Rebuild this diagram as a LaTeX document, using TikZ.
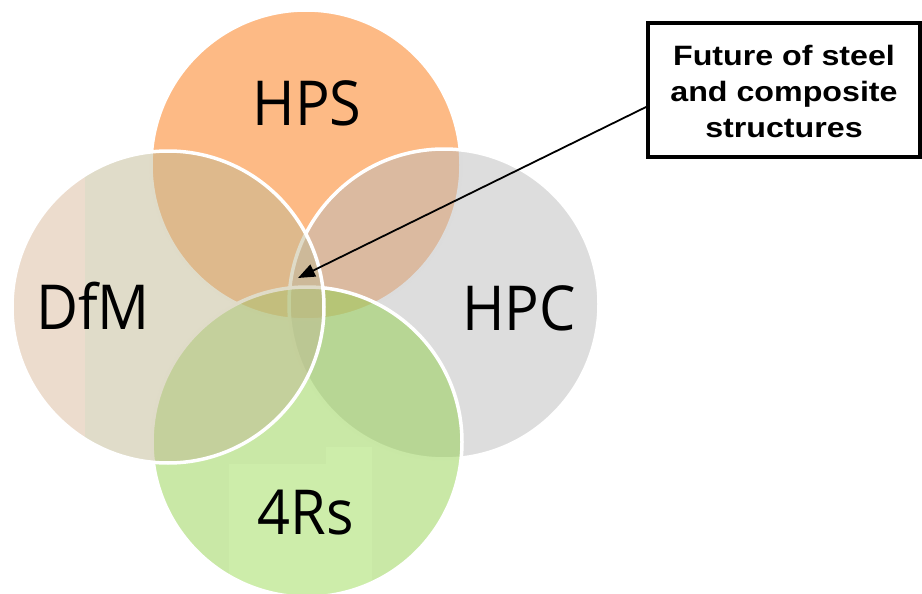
\documentclass[tikz,border=0pt]{standalone}
\usepackage{fontspec}
\usepackage{graphicx}
\usetikzlibrary{arrows.meta}
\newfontfamily\labfont{Open Sans}
\newfontfamily\boxfont{Liberation Sans}
\definecolor{hpsC}{RGB}{253,186,133}
\definecolor{hpcC}{RGB}{187,187,187}
\definecolor{rsC}{RGB}{147,209,77}
\definecolor{dfmC}{RGB}{193,185,147}
\definecolor{dfmStrip}{RGB}{236,220,205}
\definecolor{rsPatch}{RGB}{205,237,170}
\newcommand{\narrow}[1]{\scalebox{0.93}[1]{#1}}
\newcommand{\widen}[1]{\scalebox{1.15}[1]{#1}}
\begin{document}
\begin{tikzpicture}[x=1pt,y=-1pt,
  rim/.style={draw=white, line width=3.5pt},
  lab/.style={anchor=base, font=\labfont\fontsize{62}{70}\selectfont, inner sep=0pt},
  callout/.style={draw=black, line width=3.5pt, fill=white, minimum width=272pt, minimum height=134pt, inner sep=0pt},
  callouttext/.style={align=center, inner sep=0pt, font=\boxfont\bfseries\fontsize{28}{36}\selectfont},
  pointer/.style={draw=black, line width=1.8pt, -{Triangle[length=17pt,width=13pt]}}]
\useasboundingbox (0,0) rectangle (922,594);
\coordinate (cHPS) at (306,165);
\coordinate (cHPC) at (444,304);
\coordinate (cRS) at (307,442);
\coordinate (cDFM) at (168,307);
% HPS
\fill[hpsC] (cHPS) circle[radius=155pt];
\draw[rim] (cHPS) circle[radius=155pt];
% HPC
\fill[hpcC, fill opacity=0.5] (cHPC) circle[radius=155pt];
\draw[rim] (cHPC) circle[radius=155pt];
% 4Rs
\fill[rsC, fill opacity=0.5] (cRS) circle[radius=155pt];
\begin{scope}
  \clip (cRS) circle[radius=155pt];
  \fill[rsPatch] (229,464) rectangle (372,600);
  \fill[rsPatch] (326,447) rectangle (372,464);
\end{scope}
\draw[rim] (cRS) circle[radius=155pt];
% DfM
\fill[dfmC, fill opacity=0.5] (cDFM) circle[radius=156pt];
\begin{scope}
  \clip (cDFM) circle[radius=156pt];
  \fill[dfmStrip] (0,100) rectangle (85,480);
\end{scope}
\draw[rim] (cDFM) circle[radius=156pt];
% labels
\node[lab] (lHPS) at (307,125) {\narrow{HPS}};
\node[lab] (lDFM) at (93,329) {\narrow{DfM}};
\node[lab] (lHPC) at (519,330) {\narrow{HPC}};
\node[lab] (lRS) at (305.5,534) {\narrow{4Rs}};
% callout
\node[callout] (box) at (784,90) {};
\node[callouttext] (boxtext) at ([yshift=-1.5pt]box.center) {\widen{Future of steel}\\\widen{and composite}\\\widen{structures}};
\coordinate (tip) at (298,278);
\draw[pointer] (box.187) -- (tip);
\end{tikzpicture}
\end{document}
